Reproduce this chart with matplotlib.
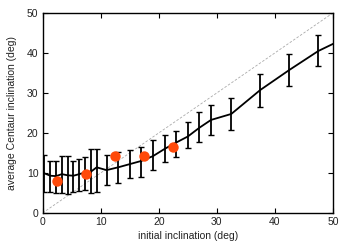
import numpy as np
import matplotlib
matplotlib.use("Agg")
import matplotlib.pyplot as plt

plt.rcParams['font.family'] = ['Liberation Sans', 'DejaVu Sans']

# simulated mean Centaur inclination vs initial inclination
inc_init = [0.3, 1.3, 2.3, 3.3, 4.3, 5.3, 6.3, 7.3, 8.3, 9.3,
            11, 13, 15, 17, 19, 21, 23, 25, 27, 29,
            32.5, 37.5, 42.5, 47.5, 52.5]
inc_mean = [9.9, 9.3, 9.2, 9.7, 9.4, 9.3, 9.7, 10.1, 10.3, 11.4,
            10.7, 11.4, 12.2, 13.0, 14.2, 16.0, 17.6, 19.1, 21.3, 23.25,
            24.75, 30.75, 35.75, 40.5, 44.0]
inc_low = [5.2, 5.3, 5.1, 4.9, 4.7, 5.3, 5.6, 5.75, 4.9, 5.3,
           7.0, 7.4, 8.7, 9.1, 10.75, 12.8, 14.1, 16.2, 17.7, 19.5,
           20.75, 26.6, 31.7, 36.75, 40.0]
inc_high = [14.5, 13.1, 13.1, 14.3, 14.3, 13.1, 13.5, 13.9, 16.0, 16.0,
            14.5, 15.3, 15.75, 16.5, 18.2, 19.5, 20.5, 22.8, 25.2, 26.9,
            28.75, 34.75, 39.75, 44.5, 48.0]

# observed points
obs_x = [2.4, 7.4, 12.4, 17.4, 22.4]
obs_y = [8.0, 9.7, 14.2, 14.2, 16.6]

x = np.array(inc_init)
m = np.array(inc_mean)
yerr = [m - np.array(inc_low), np.array(inc_high) - m]

fig = plt.figure(figsize=(3.5, 2.45), dpi=100)
ax = fig.add_axes([0.122, 0.131, 0.829, 0.816])

ax.plot([0, 50], [0, 50], ls=(0, (3, 2)), color='#aaaaaa', lw=0.6)
ax.errorbar(x, m, yerr=yerr, color='black', lw=1.3, elinewidth=1.3,
            capsize=2.2, capthick=1.0)
ax.plot(obs_x, obs_y, 'o', color='#ff4a0a', ms=7.5, mec='none', zorder=5)

ax.set_xlim(0, 50)
ax.set_ylim(0, 50)
ax.set_xticks(np.arange(0, 51, 10))
ax.set_yticks(np.arange(0, 51, 10))
ax.tick_params(direction='in', top=True, right=True, length=3.5,
               width=0.8, labelsize=7.5, pad=3, labelcolor='#222222')
for s in ax.spines.values():
    s.set_linewidth(1.0)

ax.set_xlabel('initial inclination (deg)', fontsize=7.5, labelpad=3,
              color='#222222')
ax.set_ylabel('average Centaur inclination (deg)', fontsize=7.5, labelpad=7,
              color='#222222')

fig.savefig('out.png', dpi=100)
